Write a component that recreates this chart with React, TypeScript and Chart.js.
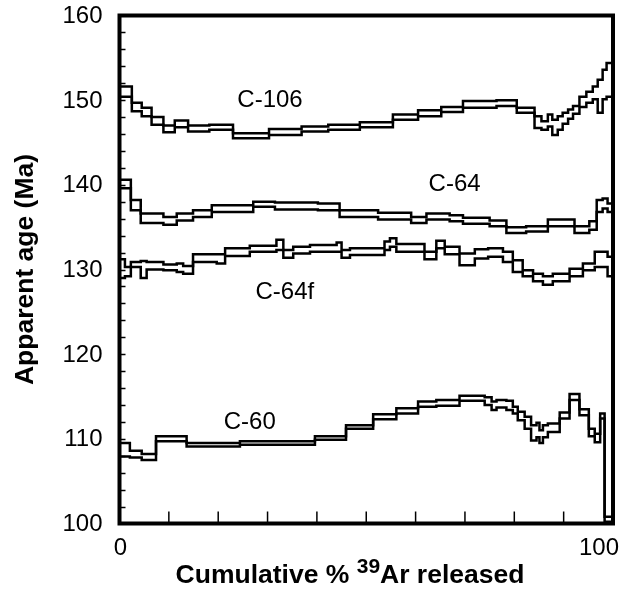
import React, { useEffect, useRef } from 'react';
import { Chart, registerables } from 'chart.js';

Chart.register(...registerables);

// ---- Data (cumulative % 39Ar boundaries, upper / lower apparent ages in Ma) ----
const c106Bounds = [0, 2.5, 4.5, 6.5, 8.9, 11.2, 13.9, 18.2, 23.0, 30.3, 36.9, 42.3, 48.7, 55.4, 60.5, 65.2, 69.6, 76.4, 80.5, 84.1, 85.5, 86.8, 87.7, 88.8, 89.8, 90.9, 91.9, 93.2, 94.6, 95.9, 96.9, 97.9, 98.7, 100];
const c106Top = [151.6, 149.7, 149.1, 148.0, 147.0, 147.6, 147.0, 147.1, 146.1, 146.6, 146.9, 147.1, 147.4, 148.3, 148.8, 149.2, 149.9, 150.0, 149.1, 148.1, 147.5, 148.3, 147.7, 148.1, 148.5, 148.9, 149.3, 150.4, 151.0, 151.6, 152.4, 153.6, 154.4];
const c106Bottom = [150.4, 148.7, 148.1, 147.1, 146.2, 146.8, 146.3, 146.5, 145.5, 145.9, 146.3, 146.5, 146.8, 147.7, 148.1, 148.6, 149.1, 149.3, 148.5, 146.7, 146.5, 146.9, 145.9, 146.5, 147.2, 147.8, 148.4, 149.2, 149.7, 150.1, 148.5, 150.1, 150.4];

const c64Bounds = [0, 2.3, 4.3, 8.9, 11.6, 14.9, 18.7, 27.1, 31.5, 40.2, 44.6, 52.4, 59.1, 62.2, 66.9, 69.6, 75.0, 78.4, 82.4, 86.8, 92.2, 95.2, 96.7, 97.9, 98.9, 100];
const c64Top = [140.6, 138.2, 136.6, 136.2, 136.6, 137.0, 137.6, 138.0, 137.9, 137.8, 137.0, 136.7, 136.2, 136.6, 136.4, 136.1, 135.8, 135.0, 135.1, 135.9, 135.1, 135.7, 138.2, 138.4, 137.8];
const c64Bottom = [139.6, 137.0, 135.5, 135.3, 135.8, 136.2, 136.8, 137.4, 137.1, 137.0, 136.2, 135.9, 135.5, 135.9, 135.7, 135.4, 135.1, 134.3, 134.5, 135.1, 134.3, 134.7, 136.8, 137.2, 136.8];

const c64fBounds = [0, 1.1, 2.3, 4.3, 5.5, 8.9, 11.6, 12.9, 14.9, 19.7, 21.4, 26.4, 31.8, 33.2, 35.2, 38.6, 44.0, 45.0, 46.7, 53.7, 54.8, 56.1, 61.8, 64.2, 65.9, 68.9, 72.0, 74.7, 77.7, 79.7, 81.7, 83.8, 85.8, 87.8, 91.2, 93.9, 96.3, 98.9, 100];
const c64fTop = [131.2, 130.3, 130.9, 131.0, 130.9, 130.6, 130.7, 130.4, 131.8, 131.8, 132.5, 132.8, 133.5, 132.3, 132.7, 132.9, 133.2, 132.3, 132.5, 133.3, 133.7, 133.0, 132.1, 133.4, 132.7, 131.9, 132.4, 132.5, 132.1, 131.1, 129.9, 129.5, 129.2, 129.5, 130.1, 130.7, 132.1, 131.5];
const c64fBottom = [129.0, 129.2, 130.3, 129.0, 130.0, 129.9, 129.7, 129.5, 130.9, 130.7, 131.6, 132.1, 132.3, 131.4, 131.9, 132.1, 132.1, 131.4, 131.7, 132.3, 132.7, 132.1, 131.2, 132.5, 131.8, 130.5, 131.3, 131.5, 130.9, 129.7, 129.2, 128.6, 128.2, 128.6, 129.2, 129.9, 130.3, 129.2];

const c60Bounds = [0, 2.1, 4.5, 7.4, 13.6, 24.4, 39.6, 45.9, 51.4, 56.1, 60.5, 64.2, 68.9, 74.0, 75.4, 76.4, 78.4, 79.7, 80.7, 82.1, 83.4, 84.5, 85.1, 85.8, 86.8, 89.2, 91.2, 93.2, 95.1, 96.3, 97.4, 98.3, 100];
const c60Top = [109.5, 108.6, 108.2, 110.3, 109.5, 109.7, 110.3, 111.6, 112.9, 113.6, 114.4, 114.6, 115.1, 114.9, 114.4, 114.6, 114.5, 113.8, 113.2, 112.6, 111.6, 111.9, 111.0, 111.6, 111.8, 113.1, 115.3, 113.5, 111.2, 110.6, 113.0, 100.8];
const c60Bottom = [107.9, 107.8, 107.5, 109.7, 109.1, 109.3, 109.9, 111.2, 112.3, 113.0, 113.8, 113.9, 114.5, 114.0, 113.4, 113.7, 113.4, 113.0, 112.2, 111.2, 109.8, 110.2, 109.5, 110.2, 110.8, 112.4, 114.6, 112.8, 110.3, 109.6, 112.4, 100.2];

const seriesLabels = ['C-106', 'C-64', 'C-64f', 'C-60'];
const seriesLabelX = [30.5, 67.9, 33.5, 26.4];
const seriesLabelY = [150.0, 140.1, 127.3, 112.0];

const yMin = 100;
const yMax = 160;
const yLabelStep = 10;
const yMinorStep = 2;
const xMin = 0;
const xMax = 100;
const xMinorStep = 10;
const xTickLabels = ['0', '100'];
const xTickLabelValues = [0, 100];

const yTitle = 'Apparent age (Ma)';
const xTitleParts = ['Cumulative % ', '39', 'Ar released'];

function steps(bounds: number[], vals: number[]) {
  const pts = vals.map((v, i) => ({ x: bounds[i], y: v }));
  pts.push({ x: bounds[bounds.length - 1], y: vals[vals.length - 1] });
  return pts;
}

const FONT = '"Liberation Sans", Arial, Helvetica, sans-serif';

const decorPlugin = {
  id: 'decor',
  afterDatasetsDraw(chart: any) {
    const { ctx, chartArea: a, scales } = chart;
    const xs = scales.x;
    const ys = scales.y;
    ctx.save();
    ctx.strokeStyle = '#000';
    ctx.fillStyle = '#000';
    ctx.lineWidth = 1.5;
    // y minor ticks (inside)
    for (let v = yMin + yMinorStep; v < yMax; v += yMinorStep) {
      const y = Math.round(ys.getPixelForValue(v)) + 0.5;
      ctx.beginPath();
      ctx.moveTo(a.left, y);
      ctx.lineTo(a.left + 6, y);
      ctx.stroke();
    }
    // x ticks (inside)
    for (let v = xMin + xMinorStep; v < xMax; v += xMinorStep) {
      const x = xs.getPixelForValue(v);
      ctx.beginPath();
      ctx.moveTo(x, a.bottom);
      ctx.lineTo(x, a.bottom - 12);
      ctx.stroke();
    }
    // frame
    ctx.lineWidth = 4;
    ctx.strokeRect(a.left, a.top, a.right - a.left, a.bottom - a.top);

    // y tick labels
    ctx.font = `24px ${FONT}`;
    ctx.textAlign = 'right';
    ctx.textBaseline = 'middle';
    for (let v = yMin; v <= yMax; v += yLabelStep) {
      ctx.fillText(String(v), a.left - 17, ys.getPixelForValue(v) + 1);
    }
    // x tick labels
    ctx.textAlign = 'center';
    xTickLabels.forEach((t, i) => {
      const v = xTickLabelValues[i];
      const x = xs.getPixelForValue(v) + (v === xMax ? -14 : 1);
      ctx.fillText(t, x, a.bottom + 25);
    });

    // series labels
    ctx.font = `24px ${FONT}`;
    seriesLabels.forEach((t, i) => {
      ctx.fillText(t, xs.getPixelForValue(seriesLabelX[i]), ys.getPixelForValue(seriesLabelY[i]));
    });

    // y title
    ctx.save();
    ctx.translate(25.5, (a.top + a.bottom) / 2);
    ctx.rotate(-Math.PI / 2);
    ctx.font = `bold 26.5px ${FONT}`;
    ctx.textAlign = 'center';
    ctx.textBaseline = 'middle';
    ctx.fillText(yTitle, 0, 0);
    ctx.restore();

    // x title with superscript
    const mainFont = `bold 26.5px ${FONT}`;
    const supFont = `bold 21px ${FONT}`;
    ctx.textAlign = 'left';
    ctx.textBaseline = 'alphabetic';
    ctx.font = mainFont;
    const w0 = ctx.measureText(xTitleParts[0]).width;
    const w2 = ctx.measureText(xTitleParts[2]).width;
    ctx.font = supFont;
    const w1 = ctx.measureText(xTitleParts[1]).width;
    const total = w0 + w1 + w2;
    let x = 350 - total / 2;
    const baseY = 583;
    ctx.font = mainFont;
    ctx.fillText(xTitleParts[0], x, baseY);
    x += w0;
    ctx.font = supFont;
    ctx.fillText(xTitleParts[1], x, baseY - 10);
    x += w1;
    ctx.font = mainFont;
    ctx.fillText(xTitleParts[2], x, baseY);
    ctx.restore();
  },
};

export default function App() {
  const ref = useRef<HTMLCanvasElement | null>(null);
  useEffect(() => {
    if (!ref.current) return;
    const mk = (data: { x: number; y: number }[]) => ({
      data,
      borderColor: '#000',
      borderWidth: 2.5,
      pointRadius: 0,
      stepped: 'before' as const,
      fill: false,
      tension: 0,
      borderJoinStyle: 'miter' as const,
      borderCapStyle: 'butt' as const,
    });
    const chart = new Chart(ref.current, {
      type: 'line',
      data: {
        datasets: [
          mk(steps(c106Bounds, c106Top)),
          mk(steps(c106Bounds, c106Bottom)),
          mk(steps(c64Bounds, c64Top)),
          mk(steps(c64Bounds, c64Bottom)),
          mk(steps(c64fBounds, c64fTop)),
          mk(steps(c64fBounds, c64fBottom)),
          mk(steps(c60Bounds, c60Top)),
          mk(steps(c60Bounds, c60Bottom)),
        ],
      },
      options: {
        responsive: false,
        animation: false,
        devicePixelRatio: 1,
        events: [],
        layout: { padding: { left: 119.5, right: 15, top: 15.5, bottom: 76.5 } },
        plugins: { legend: { display: false }, tooltip: { enabled: false } },
        scales: {
          x: { type: 'linear', min: xMin, max: xMax, display: false },
          y: { type: 'linear', min: yMin, max: yMax, display: false },
        },
      },
      plugins: [decorPlugin],
    });
    return () => chart.destroy();
  }, []);
  return (
    <div style={{ position: 'fixed', left: 0, top: 0, width: 628, height: 600, background: '#fff' }}>
      <canvas ref={ref} width={628} height={600} style={{ display: 'block' }} />
    </div>
  );
}
